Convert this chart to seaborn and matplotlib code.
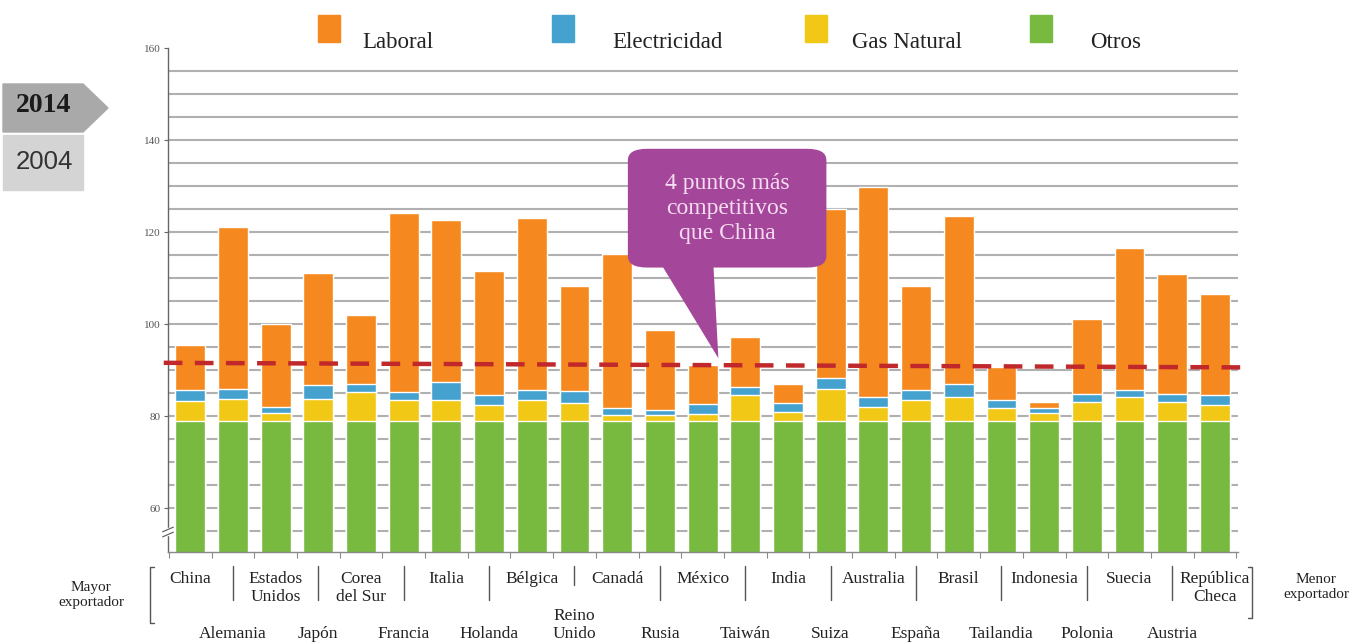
import matplotlib
matplotlib.use("Agg")
import matplotlib.pyplot as plt
from matplotlib.patches import Rectangle, Polygon, FancyBboxPatch
import numpy as np
import pandas as pd
import seaborn as sns

# Countries, ordered from largest to smallest exporter
countries = ["China", "Alemania", "Estados Unidos", "Japón", "Corea del Sur", "Francia",
             "Italia", "Holanda", "Bélgica", "Reino Unido", "Canadá", "Rusia", "México",
             "Taiwán", "India", "Suiza", "Australia", "España", "Brasil", "Tailandia",
             "Indonesia", "Polonia", "Suecia", "Austria", "República Checa"]
# Labels as printed under the axis (two rows, alternating)
tick_labels = ["China", "Alemania", "Estados\nUnidos", "Japón", "Corea\ndel Sur", "Francia",
               "Italia", "Holanda", "Bélgica", "Reino\nUnido", "Canadá", "Rusia", "México",
               "Taiwán", "India", "Suiza", "Australia", "España", "Brasil", "Tailandia",
               "Indonesia", "Polonia", "Suecia", "Austria", "República\nCheca"]

# Cost components (index, 2014)
otros = [79.0] * 25
gas_natural = [4.3, 4.8, 1.6, 4.8, 6.3, 4.5, 4.5, 3.5, 4.5, 3.8, 1.2, 1.2, 1.4,
               5.6, 1.9, 7.0, 3.0, 4.5, 5.2, 2.7, 1.6, 4.1, 5.2, 4.1, 3.5]
electricidad = [2.4, 2.2, 1.4, 2.9, 1.6, 1.8, 4.0, 2.1, 2.2, 2.6, 1.6, 1.1, 2.3,
                1.8, 1.9, 2.2, 2.2, 2.3, 2.9, 1.8, 1.1, 1.8, 1.5, 1.8, 2.2]
laboral = [9.8, 35.1, 18.0, 24.4, 15.1, 38.9, 35.2, 26.9, 37.4, 23.0, 33.5, 17.4, 8.5,
           10.8, 4.3, 36.9, 45.6, 22.6, 36.4, 7.1, 1.4, 16.2, 30.9, 25.9, 21.8]

# Reference line (dashed), start and end levels
ref_level = [91.6, 90.6]

legend_labels = ["Laboral", "Electricidad", "Gas Natural", "Otros"]
colors = {"Laboral": "#f5891f", "Electricidad": "#45a2cf",
          "Gas Natural": "#f1c816", "Otros": "#78b940"}

df = pd.DataFrame({"pais": countries, "Otros": otros, "Gas Natural": gas_natural,
                   "Electricidad": electricidad, "Laboral": laboral})
df["top_otros"] = df["Otros"]
df["top_gas"] = df["top_otros"] + df["Gas Natural"]
df["top_elec"] = df["top_gas"] + df["Electricidad"]
df["top_lab"] = df["top_elec"] + df["Laboral"]

sns.set_theme(style="white")
plt.rcParams["font.family"] = ["Liberation Serif", "DejaVu Serif"]

W, H = 1365, 643
fig = plt.figure(figsize=(W / 100, H / 100), dpi=100)
ax = fig.add_axes([168 / W, 1 - 552 / H, (1238 - 168) / W, (552 - 48) / H])

def px2fig(x, y):
    return x / W, 1 - y / H

# horizontal grid every 5 units
ax.hlines(np.arange(55, 160, 5), -0.52, 24.54, colors="#b0b0b0", lw=1.5, zorder=0)

# stacked bars drawn as cumulative layers
for col, name in [("top_lab", "Laboral"), ("top_elec", "Electricidad"),
                  ("top_gas", "Gas Natural"), ("top_otros", "Otros")]:
    sns.barplot(data=df, x="pais", y=col, order=countries, color=colors[name],
                saturation=1, width=0.7, ax=ax, zorder=2, errorbar=None)

ax.set_xlim(-0.52, 24.54)
ax.set_ylim(50.5, 160)
ax.set_xlabel("")
ax.set_ylabel("")

# dashed reference line
ax.plot([-0.62, 24.85], ref_level, color="#c0282b", lw=3.2, dashes=(4.2, 2.8),
        solid_capstyle="butt", dash_capstyle="butt", clip_on=False, zorder=4)

# y axis styling
for s in ["top", "right"]:
    ax.spines[s].set_visible(False)
ax.spines["left"].set_color("#666666")
ax.spines["left"].set_linewidth(1.0)
ax.spines["bottom"].set_color("#8a8a8a")
ax.spines["bottom"].set_linewidth(1.0)
ax.set_yticks(np.arange(60, 161, 20))
ax.tick_params(axis="y", which="major", direction="out", length=3, width=0.8,
               color="#666666", labelsize=8, labelcolor="#555555", pad=2, left=True)
ax.set_xticks(np.arange(-0.5, 25, 1))
ax.set_xticklabels([])
ax.tick_params(axis="x", direction="out", length=4, width=0.8, color="#8a8a8a", bottom=True)

# axis break mark
bk = ax.get_yaxis_transform()
ax.add_patch(Rectangle((-0.006, 54.2), 0.012, 1.6, transform=bk, color="white",
                       clip_on=False, zorder=5))
for yb in (54.3, 55.4):
    ax.plot([-0.005, 0.005], [yb - 0.5, yb + 0.5], transform=bk, color="#666666",
            lw=0.9, clip_on=False, zorder=6)

# category labels in two alternating rows
lab_kw = dict(fontsize=12.5, color="#222222", ha="center")
xt = ax.get_xaxis_transform()
for i, lab in enumerate(tick_labels):
    if i % 2 == 0:
        ax.text(i, -(571 - 552) / 504, lab, transform=xt,
                va="top", linespacing=1.15, **lab_kw)
    else:
        ax.text(i, -(642 - 552) / 504, lab, transform=xt,
                va="bottom", linespacing=1.15, **lab_kw)
        y_end = 585 if lab.startswith("Reino") else 600
        x0, _ = fig.transFigure.inverted().transform(ax.transData.transform((i, 60)))
        fig.add_artist(plt.Line2D([x0, x0], [1 - 566 / H, 1 - y_end / H],
                                  color="#555555", lw=1.0))

# brackets
def bracket(x, y0, y1, d):
    xs = [x + d, x, x, x + d]
    ys = [y0, y0, y1, y1]
    fig.add_artist(plt.Line2D([v / W for v in xs], [1 - v / H for v in ys],
                              color="#555555", lw=1.0))

bracket(150, 567, 623, 4)
bracket(1252, 567, 618, -4)
fig.text(*px2fig(91, 595), "Mayor\nexportador", ha="center", va="center",
         fontsize=11, color="#222222", linespacing=1.25)
fig.text(*px2fig(1316, 587), "Menor\nexportador", ha="center", va="center",
         fontsize=11, color="#222222", linespacing=1.25)

# legend across the top
legend_pos = [(318, 362), (552, 612), (805, 852), (1030, 1090)]
for name, (sx, tx) in zip(legend_labels, legend_pos):
    fig.patches.append(Rectangle(px2fig(sx, 42), 22 / W, 27 / H, transform=fig.transFigure,
                                 color=colors[name], figure=fig))
    fig.text(*px2fig(tx, 43), name, ha="left", va="center", fontsize=16.5, color="#222222")

# year tabs on the left
tab14 = [(3, 84), (83, 84), (108, 108), (83, 132), (3, 132)]
fig.patches.append(Polygon([px2fig(x, y) for x, y in tab14], closed=True,
                           transform=fig.transFigure, color="#a9a9a9", figure=fig))
fig.patches.append(Rectangle(px2fig(3, 190), 80 / W, 55 / H, transform=fig.transFigure,
                             color="#d4d4d4", figure=fig))
fig.text(*px2fig(44, 106), "2014", ha="center", va="center", fontsize=20,
         fontweight="bold", color="#1a1a1a")
fig.text(*px2fig(44, 162), "2004", ha="center", va="center", fontsize=18.5,
         color="#333333", family=["Liberation Sans", "DejaVu Sans"])

# callout pointing to México
purple = "#a4479b"
box = FancyBboxPatch((10.25, 112.3), 4.65, 25.8, boxstyle="round,pad=0,rounding_size=0.45",
                     mutation_aspect=5.5, facecolor=purple, edgecolor="none", zorder=6)
ax.add_patch(box)
ax.add_patch(Polygon([(11.0, 113.5), (12.25, 113.5), (12.37, 92.6)], closed=True,
                     facecolor=purple, edgecolor="none", zorder=6))
ax.text(12.57, 125.2, "4 puntos más\ncompetitivos\nque China", ha="center", va="center",
        fontsize=17, color="#f6dcf1", linespacing=1.25, zorder=7)

fig.savefig("out.png", dpi=100)
